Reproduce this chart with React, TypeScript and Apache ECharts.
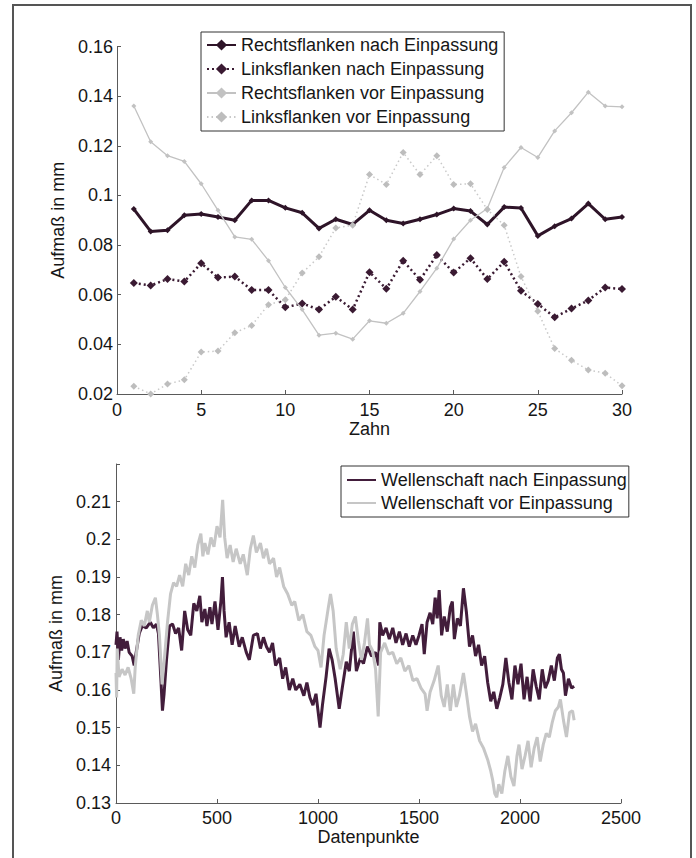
import React, { useEffect, useRef } from "react";
import * as echarts from "echarts";

// ---------- top chart data ----------
const teeth = [1, 2, 3, 4, 5, 6, 7, 8, 9, 10, 11, 12, 13, 14, 15, 16, 17, 18, 19, 20, 21, 22, 23, 24, 25, 26, 27, 28, 29, 30];
const rechtsNach = [0.0945, 0.0855, 0.086, 0.092, 0.0925, 0.0913, 0.09, 0.098, 0.098, 0.095, 0.093, 0.0867, 0.0904, 0.0883, 0.094, 0.09, 0.0887, 0.0904, 0.0923, 0.0947, 0.0937, 0.0883, 0.0953, 0.0949, 0.0837, 0.0876, 0.0907, 0.0967, 0.0904, 0.0913];
const linksNach = [0.0647, 0.0637, 0.0663, 0.0653, 0.0727, 0.0669, 0.0673, 0.0619, 0.0619, 0.0549, 0.0565, 0.054, 0.0592, 0.054, 0.0691, 0.0624, 0.0737, 0.066, 0.076, 0.0689, 0.0747, 0.0663, 0.0733, 0.0616, 0.0563, 0.0509, 0.0544, 0.0577, 0.0629, 0.0623];
const rechtsVor = [0.136, 0.1216, 0.116, 0.1137, 0.1047, 0.094, 0.0833, 0.0823, 0.0737, 0.0629, 0.054, 0.0437, 0.0445, 0.0421, 0.0495, 0.0485, 0.0525, 0.0613, 0.0707, 0.0824, 0.09, 0.0947, 0.1113, 0.1193, 0.1153, 0.126, 0.1333, 0.1416, 0.136, 0.1357];
const linksVor = [0.0231, 0.02, 0.024, 0.0257, 0.0369, 0.0373, 0.0447, 0.0476, 0.056, 0.058, 0.0687, 0.0753, 0.0869, 0.088, 0.1084, 0.1044, 0.1173, 0.1084, 0.116, 0.1044, 0.1047, 0.0943, 0.088, 0.0673, 0.0533, 0.0383, 0.0336, 0.0297, 0.0284, 0.0233];

// ---------- bottom chart data ([Datenpunkt, Aufmaß]) ----------
const wellenNach: [number, number][] = [
  [0, 0.172], [5, 0.1755], [12, 0.168], [20, 0.174], [28, 0.1705], [36, 0.1735], [45, 0.171], [55, 0.173], [65, 0.17], [80, 0.169], [90, 0.1665], [100, 0.17], [115, 0.175], [130, 0.177], [150, 0.1765], [170, 0.178], [185, 0.1765], [200, 0.1775], [210, 0.175], [222, 0.163], [230, 0.1545], [238, 0.159], [250, 0.168], [265, 0.177], [280, 0.1775], [295, 0.175], [310, 0.1765], [325, 0.1705], [340, 0.181], [355, 0.176], [370, 0.1745], [385, 0.183], [400, 0.181], [415, 0.185], [425, 0.178], [440, 0.1815], [450, 0.177], [465, 0.182], [475, 0.1775], [490, 0.1835], [505, 0.176], [520, 0.184], [527, 0.19], [535, 0.181], [545, 0.174], [560, 0.178], [575, 0.172], [590, 0.177], [610, 0.1715], [625, 0.174], [645, 0.17], [660, 0.168], [680, 0.1745], [700, 0.175], [715, 0.171], [730, 0.174], [745, 0.1715], [760, 0.17], [775, 0.1725], [790, 0.1665], [810, 0.1685], [825, 0.163], [840, 0.166], [858, 0.16], [875, 0.163], [890, 0.16], [910, 0.1615], [930, 0.1585], [945, 0.162], [960, 0.158], [975, 0.156], [990, 0.159], [1010, 0.15], [1022, 0.156], [1040, 0.1635], [1055, 0.171], [1070, 0.168], [1085, 0.163], [1105, 0.155], [1120, 0.1605], [1140, 0.1675], [1155, 0.165], [1175, 0.1755], [1190, 0.165], [1210, 0.1685], [1225, 0.167], [1245, 0.1715], [1265, 0.169], [1285, 0.17], [1300, 0.1665], [1306, 0.178],
  [1320, 0.1745], [1337, 0.1765], [1353, 0.1735], [1370, 0.1765], [1386, 0.1725], [1403, 0.1755], [1419, 0.172], [1436, 0.175], [1452, 0.1715], [1469, 0.1745], [1485, 0.172], [1500, 0.1745], [1515, 0.1775], [1526, 0.1695], [1540, 0.178], [1555, 0.1805], [1568, 0.1775], [1580, 0.1845], [1590, 0.179], [1600, 0.1865], [1612, 0.1745], [1625, 0.1795], [1640, 0.1755], [1655, 0.182], [1665, 0.1835], [1675, 0.1735], [1690, 0.179], [1705, 0.177], [1720, 0.187], [1735, 0.1805], [1750, 0.1715], [1765, 0.1745], [1780, 0.169], [1795, 0.172], [1810, 0.1665], [1825, 0.169], [1840, 0.162], [1855, 0.157], [1870, 0.1595], [1885, 0.155], [1900, 0.158], [1915, 0.1615], [1930, 0.1685], [1945, 0.162], [1960, 0.1575], [1975, 0.1665], [1990, 0.1615], [2005, 0.167], [2020, 0.1575], [2035, 0.1635], [2050, 0.157], [2065, 0.1655], [2080, 0.161], [2095, 0.1575], [2110, 0.1655], [2125, 0.1605], [2140, 0.1625], [2155, 0.1665], [2170, 0.1625], [2185, 0.1685], [2195, 0.1695], [2205, 0.1655], [2215, 0.1645], [2225, 0.1585], [2240, 0.163], [2255, 0.1605], [2268, 0.161],
];
const wellenVor: [number, number][] = [
  [0, 0.1645], [3, 0.158], [6, 0.171], [15, 0.1635], [30, 0.1655], [45, 0.164], [60, 0.166], [75, 0.163], [88, 0.159], [95, 0.166], [110, 0.1745], [125, 0.1785], [140, 0.177], [155, 0.181], [165, 0.178], [180, 0.1825], [195, 0.1845], [205, 0.18], [215, 0.1745], [228, 0.1615], [240, 0.1685], [255, 0.178], [270, 0.1855], [285, 0.1885], [300, 0.1875], [315, 0.1905], [330, 0.1875], [345, 0.1935], [360, 0.1905], [375, 0.1955], [390, 0.1925], [405, 0.1985], [420, 0.2015], [430, 0.1955], [440, 0.199], [455, 0.196], [470, 0.2005], [485, 0.198], [500, 0.2035], [515, 0.2005], [528, 0.2105], [538, 0.2005], [550, 0.195], [565, 0.1985], [580, 0.194], [595, 0.1975], [615, 0.1935], [630, 0.196], [650, 0.1905], [665, 0.1975], [680, 0.201], [695, 0.1965], [715, 0.199], [730, 0.195], [745, 0.1975], [760, 0.1935], [780, 0.195], [795, 0.19], [810, 0.1925], [830, 0.1875], [850, 0.1855], [870, 0.1825], [885, 0.1835], [905, 0.1785], [925, 0.18], [945, 0.1755], [965, 0.1745], [985, 0.1715], [1000, 0.1705], [1015, 0.166], [1030, 0.1745], [1050, 0.1815], [1062, 0.1855], [1075, 0.181], [1090, 0.171], [1110, 0.1655], [1125, 0.1695], [1140, 0.178], [1155, 0.171], [1170, 0.1775], [1185, 0.1795], [1200, 0.173], [1215, 0.168], [1230, 0.1725], [1245, 0.179], [1255, 0.172], [1270, 0.1705], [1285, 0.1655], [1298, 0.153], [1310, 0.17], [1330, 0.1725], [1350, 0.1695], [1370, 0.17], [1390, 0.167], [1410, 0.1685], [1430, 0.165], [1450, 0.1665], [1470, 0.1625], [1490, 0.163], [1510, 0.1605], [1530, 0.159], [1540, 0.1545], [1555, 0.1595], [1575, 0.1625], [1595, 0.1665], [1610, 0.1585], [1625, 0.1555], [1640, 0.1615], [1655, 0.1545], [1670, 0.1615], [1685, 0.1555], [1700, 0.1585], [1720, 0.1645], [1735, 0.159], [1750, 0.153], [1765, 0.149], [1780, 0.151], [1800, 0.1465], [1820, 0.1445], [1840, 0.1415], [1855, 0.1385], [1865, 0.136], [1875, 0.1325], [1885, 0.1315], [1895, 0.135], [1910, 0.1325], [1925, 0.1385], [1940, 0.1425], [1955, 0.137], [1970, 0.1345], [1985, 0.1425], [1995, 0.1455], [2010, 0.139], [2025, 0.1425], [2040, 0.1465], [2055, 0.1395], [2070, 0.1445], [2085, 0.1475], [2100, 0.141], [2115, 0.1455], [2130, 0.1485], [2145, 0.1475], [2160, 0.1515], [2175, 0.1545], [2190, 0.1555], [2200, 0.1575], [2215, 0.152], [2230, 0.1475], [2245, 0.154], [2260, 0.1545], [2268, 0.152],
];

const topNames = ["Rechtsflanken nach Einpassung", "Linksflanken nach Einpassung", "Rechtsflanken vor Einpassung", "Linksflanken vor Einpassung"];
const bottomNames = ["Wellenschaft nach Einpassung", "Wellenschaft vor Einpassung"];

export default function App() {
  const ref = useRef<HTMLDivElement>(null);
  useEffect(() => {
    const chart = echarts.init(ref.current!, null, { renderer: "svg" });
    const font = "'Liberation Sans', Arial, sans-serif";
    const txt = "#161616";
    const axisCol = "#5a5a5a";
    const fmt = (v: number) => String(parseFloat(Number(v).toFixed(4)));
    const pair = (vals: number[]) => teeth.map((t, i) => [t, vals[i]]);
    const darkTop = "#2e1428";
    const darkTop2 = "#3a1a32";
    const greyTop = "#c2c2c2";
    const greyTop2 = "#c9c9c9";
    const darkBot = "#421d3b";
    const greyBot = "#c6c6c6";

    const axisCommon = {
      axisLine: { show: true, onZero: false, lineStyle: { color: axisCol, width: 1 } },
      axisTick: { show: true, inside: true, length: 4, lineStyle: { color: axisCol } },
      splitLine: { show: false },
      axisLabel: { color: txt, fontFamily: font, fontSize: 18, formatter: fmt },
      nameTextStyle: { color: txt, fontFamily: font, fontSize: 18 },
      nameLocation: "middle" as const,
    };

    const legendCommon = {
      orient: "vertical" as const,
      backgroundColor: "#ffffff",
      borderColor: "#333333",
      borderWidth: 1,
      itemWidth: 29,
      itemHeight: 14,
      textStyle: { color: txt, fontFamily: font, fontSize: 18, lineHeight: 18 },
      selectedMode: false,
    };

    chart.setOption({
      animation: false,
      backgroundColor: "#ffffff",
      grid: [
        { left: 117, right: 74, top: 46.5, height: 347.5, containLabel: false },
        { left: 116, right: 75, top: 464, height: 339, containLabel: false },
      ],
      xAxis: [
        { ...axisCommon, type: "value", gridIndex: 0, min: 0, max: 30, interval: 5, name: "Zahn", nameGap: 24,
          axisLabel: { ...axisCommon.axisLabel, margin: 7 } },
        { ...axisCommon, type: "value", gridIndex: 1, min: 0, max: 2500, interval: 500, name: "Datenpunkte", nameGap: 23,
          axisLabel: { ...axisCommon.axisLabel, margin: 6 } },
      ],
      yAxis: [
        { ...axisCommon, type: "value", gridIndex: 0, min: 0.02, max: 0.16, interval: 0.02, name: "Aufmaß in mm", nameGap: 32,
          axisLabel: { ...axisCommon.axisLabel, margin: 4 } },
        { ...axisCommon, type: "value", gridIndex: 1, min: 0.13, max: 0.22, interval: 0.01, name: "Aufmaß in mm", nameGap: 32,
          axisLabel: { ...axisCommon.axisLabel, margin: 5, formatter: (v: number) => (v > 0.2195 ? "" : fmt(v)) } },
      ],
      legend: [
        { ...legendCommon, left: 201, top: 32, padding: [4, 6, 5, 5], itemGap: 6, data: topNames },
        { ...legendCommon, left: 341, top: 466, padding: [5, 2, 5, 5], itemGap: 5, data: bottomNames,
          itemStyle: { opacity: 0 } },
      ],
      graphic: [
        { type: "rect", silent: true, z: -10, shape: { x: 13, y: 5, width: 678, height: 880 },
          style: { fill: "none", stroke: "#555555", lineWidth: 2 } },
      ],
      series: [
        { name: topNames[0], type: "line", xAxisIndex: 0, yAxisIndex: 0, data: pair(rechtsNach),
          lineStyle: { color: darkTop, width: 3 }, itemStyle: { color: darkTop }, symbol: "diamond", symbolSize: 6 },
        { name: topNames[1], type: "line", xAxisIndex: 0, yAxisIndex: 0, data: pair(linksNach),
          lineStyle: { color: darkTop2, width: 2.5, type: [2, 3] }, itemStyle: { color: darkTop2 }, symbol: "diamond", symbolSize: 8 },
        { name: topNames[2], type: "line", xAxisIndex: 0, yAxisIndex: 0, data: pair(rechtsVor),
          lineStyle: { color: greyTop, width: 1.3 }, itemStyle: { color: greyTop }, symbol: "diamond", symbolSize: 5 },
        { name: topNames[3], type: "line", xAxisIndex: 0, yAxisIndex: 0, data: pair(linksVor),
          lineStyle: { color: greyTop2, width: 1.5, type: [1.5, 3] }, itemStyle: { color: "#bdbdbd" }, symbol: "diamond", symbolSize: 7 },
        { name: bottomNames[0], type: "line", xAxisIndex: 1, yAxisIndex: 1, data: wellenNach,
          lineStyle: { color: darkBot, width: 3 }, itemStyle: { color: darkBot }, symbol: "circle", symbolSize: 0, showSymbol: false },
        { name: bottomNames[1], type: "line", xAxisIndex: 1, yAxisIndex: 1, data: wellenVor,
          lineStyle: { color: greyBot, width: 3 }, itemStyle: { color: greyBot }, symbol: "circle", symbolSize: 0, showSymbol: false },
      ],
    });
    return () => chart.dispose();
  }, []);
  return (
    <div
      ref={ref}
      style={{ position: "fixed", left: 0, top: 0, width: 696, height: 858, background: "#ffffff" }}
    />
  );
}
